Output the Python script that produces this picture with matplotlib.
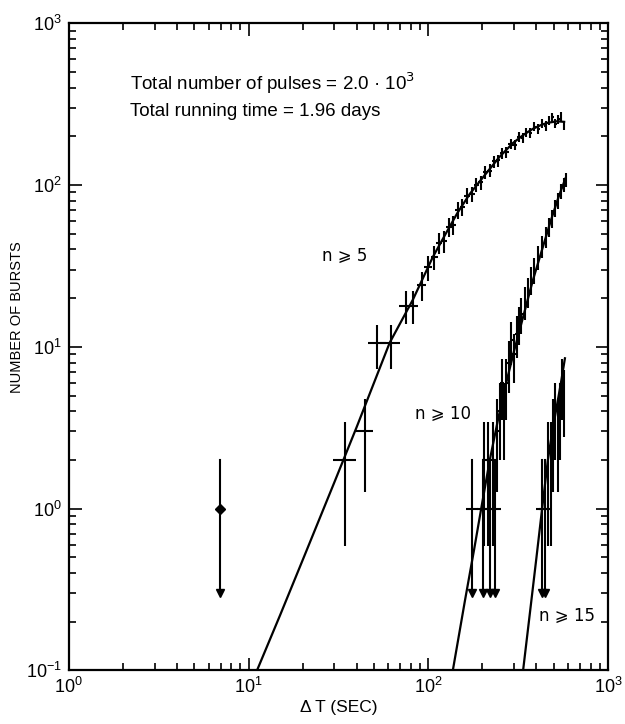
import numpy as np
import matplotlib
matplotlib.use("Agg")
import matplotlib.pyplot as plt
from matplotlib.ticker import LogLocator, NullFormatter

# ---------------- data ----------------
# fitted curves
n5_curve_x = [11.15, 15, 20, 30, 40, 61, 82, 106, 125, 145, 170, 202, 250, 296, 340, 380, 420, 457, 520, 570]
n5_curve_y = [0.1, 0.22, 0.48, 1.45, 3.2, 10.6, 19.5, 35.9, 50, 67, 88, 112, 150, 182, 205, 222, 234, 242, 248, 246]
n10_curve_x = [137, 160, 180, 200, 220, 245, 274, 300, 330, 355, 382, 430, 480, 530, 580]
n10_curve_y = [0.1, 0.27, 0.56, 1.1, 2.0, 3.6, 6.25, 9.4, 14, 19, 25.8, 40, 60, 84, 110]
n15_curve_x = [337, 370, 400, 430, 463, 490, 520, 550, 576]
n15_curve_y = [0.1, 0.24, 0.5, 1.0, 2.0, 3.0, 4.35, 6.2, 8.5]

# n >= 5 data points: x, y, x half-width
n5_x = [34.5, 44.5, 52, 62, 75, 82, 92, 100, 108, 115, 122, 130, 138, 146, 155, 165, 175,
        185, 196, 208, 220, 232, 245, 258, 272, 287, 302, 318, 335, 352, 370, 390, 410,
        430, 450, 470, 490, 510, 530, 550, 570]
n5_y = [2.0, 3.0, 10.5, 10.5, 18, 18, 24, 31, 36, 44, 45, 55, 57, 70, 73, 86, 88,
        100, 104, 120, 123, 140, 142, 158, 160, 180, 178, 198, 196, 212, 210, 230, 222,
        240, 232, 250, 262, 240, 255, 265, 235]
n5_xerr = [5, 5, 6, 8, 6, 6, 5, 5, 5, 5, 5, 5, 5, 5, 5, 6, 6,
           6, 6, 6, 7, 7, 7, 7, 8, 8, 8, 8, 8, 8, 8, 8, 8,
           8, 8, 8, 8, 8, 8, 8, 8]

# upper limits (single burst, arrow down)
ul_x = [6.9]
ul_y = [1.0]
ul_tip = 0.3

# n >= 10 data points
n10_x = [205, 215, 228, 240, 250, 258, 265, 272, 280, 290, 300, 310, 320, 330, 345,
         360, 375, 390, 410, 430, 450, 470, 490, 510, 530, 550, 570, 585]
n10_y = [2, 2, 2, 3, 4, 6, 4, 6, 8, 11, 9, 12, 14, 16, 19,
         22, 26, 30, 36, 42, 48, 55, 62, 72, 80, 92, 100, 108]
n10_xerr = [6] * len(n10_x)
n10_ul_x = [175, 202, 220, 235]
n10_ul_y = [1, 1, 1, 1]

# n >= 15 data points
n15_x = [462, 480, 495, 510, 525, 540, 555, 570]
n15_y = [2, 2, 3, 4, 3, 4, 6, 5]
n15_xerr = [6] * len(n15_x)
n15_ul_x = [430, 445]
n15_ul_y = [1, 1]

# ---------------- figure ----------------
FONT = ["Liberation Sans", "DejaVu Sans"]
plt.rcParams["font.family"] = FONT

fig = plt.figure(figsize=(6.25, 7.24), dpi=100)
ax = fig.add_axes([0.110, 0.074, 0.8628, 0.8938])
ax.set_xscale("log")
ax.set_yscale("log")
ax.set_xlim(1, 1000)
ax.set_ylim(0.1, 1000)

lw = 1.5
for cx, cy in [(n5_curve_x, n5_curve_y), (n10_curve_x, n10_curve_y), (n15_curve_x, n15_curve_y)]:
    ax.plot(cx, cy, color="black", lw=1.6)

def crosses(xs, ys, xe):
    xs = np.array(xs, float)
    ys = np.array(ys, float)
    xe = np.array(xe, float)
    s = np.sqrt(ys)
    lo = np.clip(ys - s, 0.105, None)
    ax.errorbar(xs, ys, xerr=xe, yerr=[ys - lo, s], fmt="none",
                ecolor="black", elinewidth=lw, capsize=0)

crosses(n5_x, n5_y, n5_xerr)
crosses(n10_x, n10_y, n10_xerr)
crosses(n15_x, n15_y, n15_xerr)

def upper_limits(xs, ys, diamond=False):
    for x, y in zip(xs, ys):
        ax.plot([x, x], [ul_tip, y + np.sqrt(y)], color="black", lw=lw)
        ax.plot([x], [ul_tip], marker="v", color="black", ms=6)
        if diamond:
            ax.plot([x], [y], marker="D", color="black", ms=5)
        else:
            ax.plot([x], [y], marker="_", color="black", ms=8, mew=lw)

upper_limits(ul_x, ul_y, diamond=True)
upper_limits(n10_ul_x, n10_ul_y)
upper_limits(n15_ul_x, n15_ul_y)

# ticks
for axis in (ax.xaxis, ax.yaxis):
    axis.set_major_locator(LogLocator(base=10, numticks=10))
    axis.set_minor_locator(LogLocator(base=10, subs=np.arange(2, 10), numticks=10))
    axis.set_minor_formatter(NullFormatter())
ax.tick_params(which="both", direction="in", top=True, right=True, width=1.2, color="black")
ax.tick_params(which="major", length=9, labelsize=13, pad=5)
ax.tick_params(which="minor", length=5)
for s in ax.spines.values():
    s.set_linewidth(1.6)

ax.set_xlabel("\u0394 T (SEC)", fontsize=12.5, labelpad=2)
ax.set_ylabel("NUMBER OF BURSTS", fontsize=10.5)
ax.yaxis.set_label_coords(-0.083, 0.546)

ax.text(0.114, 0.908, "Total number of pulses = 2.0 \u00b7 10$^3$", transform=ax.transAxes,
        fontsize=13.5, va="center", ha="left")
ax.text(0.114, 0.863, "Total running time = 1.96 days", transform=ax.transAxes,
        fontsize=13.5, va="center", ha="left")

ax.text(0.470, 0.640, "n \u2a7e 5", transform=ax.transAxes, fontsize=12, va="center", ha="left",
        family=["DejaVu Sans"])
ax.text(0.643, 0.397, "n \u2a7e 10", transform=ax.transAxes, fontsize=12, va="center", ha="left",
        family=["DejaVu Sans"])
ax.text(0.872, 0.085, "n \u2a7e 15", transform=ax.transAxes, fontsize=12, va="center", ha="left",
        family=["DejaVu Sans"])

fig.savefig("out.png", dpi=100)
